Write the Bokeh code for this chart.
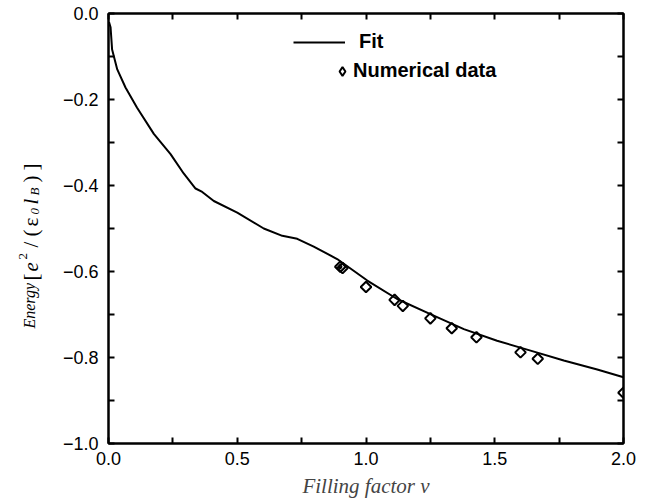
import math
from bokeh.plotting import figure
from bokeh.layouts import row
from bokeh.models import (Range1d, LinearAxis, FixedTicker, CustomJSTickFormatter,
                          Legend, LegendItem, Label)
from bokeh.embed import file_html
from bokeh.resources import INLINE

# ---- data ----
fit_x = [0.002, 0.008, 0.014, 0.034, 0.066, 0.111, 0.176, 0.241, 0.292, 0.338,
         0.364, 0.409, 0.5, 0.603, 0.675, 0.733, 0.797, 0.888, 1.005, 1.121,
         1.25, 1.38, 1.509, 1.639, 1.768, 1.898, 2.0]
fit_y = [-0.02, -0.032, -0.084, -0.13, -0.172, -0.219, -0.28, -0.327, -0.372, -0.407,
         -0.415, -0.436, -0.463, -0.5, -0.517, -0.524, -0.542, -0.571, -0.621, -0.664,
         -0.699, -0.734, -0.761, -0.784, -0.807, -0.828, -0.846]

num_x = [0.9, 0.909, 1.0, 1.111, 1.143, 1.25, 1.333, 1.429, 1.6, 1.667, 2.0]
num_y = [-0.589, -0.592, -0.636, -0.666, -0.680, -0.709, -0.732, -0.753, -0.788, -0.803, -0.882]

x_major = [0.0, 0.5, 1.0, 1.5, 2.0]
x_minor = [0.25, 0.75, 1.25, 1.75]
y_major = [-1.0, -0.8, -0.6, -0.4, -0.2, 0.0]
y_minor = [-0.9, -0.7, -0.5, -0.3, -0.1]

SANS = "Liberation Sans"
SERIF = "Liberation Serif"

FW, FH = 515, 430
TOP = 13                 # frame top (px)
LW, H = 50, 500          # narrow strip holding the rotated y-axis title

p = figure(frame_width=FW, frame_height=FH,
           x_range=Range1d(0, 2), y_range=Range1d(-1, 0),
           output_backend="svg", toolbar_location=None,
           x_axis_location=None, y_axis_location=None,
           min_border_left=108 - LW, min_border_top=TOP, min_border_right=20,
           min_border_bottom=20)
p.background_fill_color = "white"
p.border_fill_color = "white"
p.xgrid.visible = False
p.ygrid.visible = False
p.outline_line_color = "black"
p.outline_line_width = 2

fmt = CustomJSTickFormatter(code="""
return (tick < -1e-9 ? "\\u2212" : "") + Math.abs(tick).toFixed(1);
""")
blank = CustomJSTickFormatter(code="return '';")


def style_axis(ax, show_labels):
    ax.axis_line_width = 2
    ax.axis_line_color = "black"
    ax.major_tick_in = 6
    ax.major_tick_out = 0
    ax.minor_tick_in = 6
    ax.minor_tick_out = 0
    ax.major_tick_line_width = 2
    ax.minor_tick_line_width = 2
    ax.major_tick_line_color = "black"
    ax.minor_tick_line_color = "black"
    ax.major_label_text_font = SANS
    ax.major_label_text_font_size = "18px"
    ax.major_label_text_color = "black"
    if show_labels:
        ax.formatter = fmt
    else:
        ax.formatter = blank
        ax.major_label_standoff = 0


xb = LinearAxis(ticker=FixedTicker(ticks=x_major, minor_ticks=x_minor))
style_axis(xb, True)
xb.major_label_standoff = 8
xb.axis_label = "Filling factor \u03bd"
xb.axis_label_text_font = SERIF
xb.axis_label_text_font_style = "italic"
xb.axis_label_text_font_size = "21px"
xb.axis_label_standoff = 6
p.add_layout(xb, "below")

xt = LinearAxis(ticker=FixedTicker(ticks=x_major, minor_ticks=x_minor))
style_axis(xt, False)
p.add_layout(xt, "above")

yl = LinearAxis(ticker=FixedTicker(ticks=y_major, minor_ticks=y_minor))
style_axis(yl, True)
yl.major_label_standoff = 10
p.add_layout(yl, "left")

yr = LinearAxis(ticker=FixedTicker(ticks=y_major, minor_ticks=y_minor))
style_axis(yr, False)
p.add_layout(yr, "right")

fit_r = p.line(fit_x, fit_y, line_color="black", line_width=2)
num_r = p.scatter(num_x, num_y, marker="square", angle=math.pi / 4, size=7.5,
                  line_color="black", line_width=2, fill_color=None)
# legend proxy: a small diamond on the first data point (hidden in its blob)
num_proxy = p.scatter(num_x[:1], num_y[:1], marker="diamond", size=4,
                      line_color="black", line_width=2, fill_color=None)

leg1 = Legend(items=[LegendItem(label="Fit", renderers=[fit_r])],
              location=(185, 390), glyph_width=52, glyph_height=20,
              label_height=20, label_standoff=14, padding=0, margin=0,
              border_line_color=None, background_fill_alpha=0,
              label_text_font=SANS, label_text_font_style="bold",
              label_text_font_size="20px", label_text_color="black")
leg2 = Legend(items=[LegendItem(label="Numerical data", renderers=[num_proxy])],
              location=(223, 361), glyph_width=22, glyph_height=22,
              label_height=22, label_standoff=0, padding=0, margin=0,
              border_line_color=None, background_fill_alpha=0,
              label_text_font=SANS, label_text_font_style="bold",
              label_text_font_size="20px", label_text_color="black")
p.add_layout(leg1, "center")
p.add_layout(leg2, "center")

# ---- strip with the rotated, mixed-style y-axis title ----
# (its frame gets aligned with the main frame: rows TOP .. TOP+FH)
lab = figure(width=LW, height=H, x_range=Range1d(0, LW), y_range=Range1d(0, FH),
             output_backend="svg", toolbar_location=None,
             x_axis_location=None, y_axis_location=None,
             min_border_left=0, min_border_right=0, min_border_top=TOP,
             min_border_bottom=H - TOP - FH)
lab.xgrid.visible = False
lab.ygrid.visible = False
lab.outline_line_color = None
lab.background_fill_color = "white"
lab.border_fill_color = "white"

# (text, style, size, start position from top, baseline position from left)
ylab_parts = [
    ("Energy", "italic", 16, 328, 29),
    ("[", "normal", 21, 280, 30),
    ("e", "italic", 21, 271, 30),
    ("2", "normal", 13, 259, 22),
    ("/", "normal", 21, 247, 30),
    ("(", "normal", 21, 236, 30),
    ("\u03b5", "normal", 21, 226, 30),
    ("0", "italic", 13, 214, 34),
    ("l", "italic", 21, 204, 30),
    ("B", "italic", 13, 195, 34),
    (")", "normal", 21, 182, 30),
    ("]", "normal", 21, 170, 30),
]
for txt, style, size, top, left in ylab_parts:
    lab.add_layout(Label(x=left, y=TOP + FH - top, text=txt,
                         angle=math.pi / 2, text_font=SERIF,
                         text_font_style=style, text_font_size=f"{size}px",
                         text_align="left", text_baseline="alphabetic",
                         text_color="black"))

layout = row(lab, p)
open("out.html", "w").write(file_html(layout, INLINE))
